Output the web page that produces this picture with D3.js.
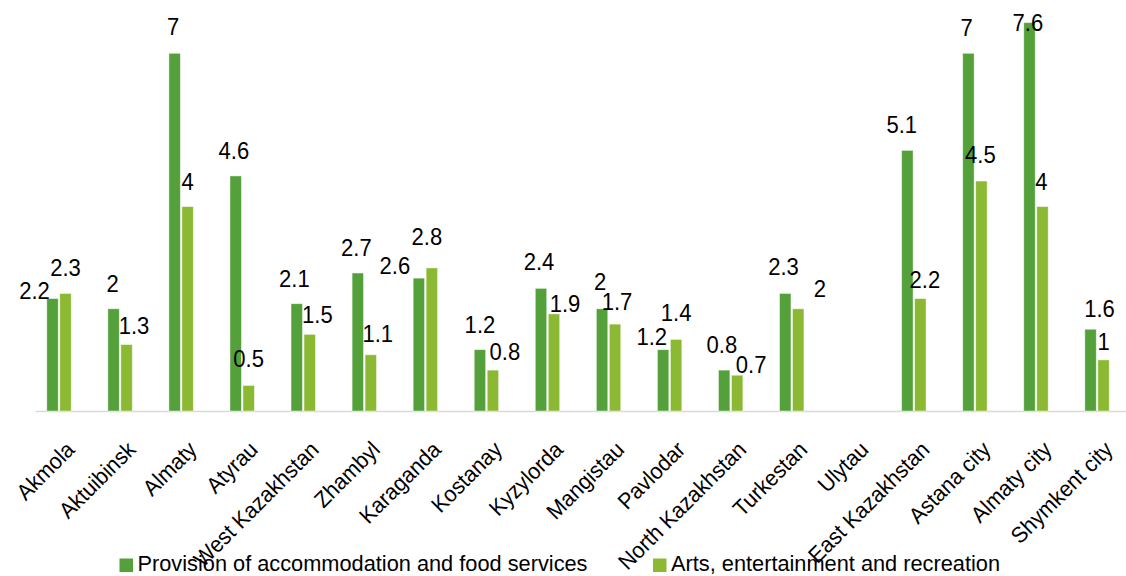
<!DOCTYPE html>
<html>
<head>
<meta charset="utf-8">
<script src="https://cdn.jsdelivr.net/npm/d3@7"></script>
<style>
  html, body { margin: 0; padding: 0; background: #ffffff; }
  svg { display: block; font-family: "Liberation Sans", Arial, sans-serif; }
</style>
</head>
<body>
<svg id="chart" width="1126" height="576"></svg>
<script>
// Regions of Kazakhstan
const regions = [
  "Akmola", "Aktuibinsk", "Almaty", "Atyrau", "West Kazakhstan", "Zhambyl",
  "Karaganda", "Kostanay", "Kyzylorda", "Mangistau", "Pavlodar",
  "North Kazakhstan", "Turkestan", "Ulytau", "East Kazakhstan",
  "Astana city", "Almaty city", "Shymkent city"
];

const seriesNames = [
  "Provision of accommodation and food services",
  "Arts, entertainment and recreation"
];

// Values per region (null = no data)
const accommodationFood = [2.2, 2, 7, 4.6, 2.1, 2.7, 2.6, 1.2, 2.4, 2, 1.2, 0.8, 2.3, null, 5.1, 7, 7.6, 1.6];
const artsRecreation   = [2.3, 1.3, 4, 0.5, 1.5, 1.1, 2.8, 0.8, 1.9, 1.7, 1.4, 0.7, 2, null, 2.2, 4.5, 4, 1];

// Label placement nudges: [horizontal shift, lift above bar top]
const nudgeFood = [[-18,0],[-1,17],[-1.5,18],[-1.8,17],[-2.4,17],[-1.5,17],[-24,4],[0,17],[-2,18],[-2,19],[-11.4,5],[-2.3,17],[-1.7,18],null,[-5.6,17],[-1.7,17.6],[-1.6,-8],[9,12]];
const nudgeArts = [[0,17.5],[7.5,10.6],[0,17],[0,18],[7.7,11],[7,13],[-5,23],[12,10],[11,2],[2,14],[0,18],[14,2],[21.6,11.5],null,[4.5,11],[-1,17.7],[-1,16.6],[0,10]];

const colors = ["#54a03b", "#8cb934"];

const svg = d3.select("#chart");
const baseY = 411;

const x = d3.scaleBand().domain(regions).range([28.5, 1127.6]).padding(0);
const xs = d3.scaleBand().domain(seriesNames).range([18.3, 42.7]).paddingInner(0.12);
const y = d3.scaleLinear().domain([0, 8]).range([baseY, baseY - 8 * 51.1]);

const series = [
  { name: seriesNames[0], values: accommodationFood, nudge: nudgeFood, color: colors[0] },
  { name: seriesNames[1], values: artsRecreation, nudge: nudgeArts, color: colors[1] }
];

// Baseline
svg.append("line")
  .attr("x1", 35.5).attr("x2", 1126)
  .attr("y1", baseY + 0.5).attr("y2", baseY + 0.5)
  .attr("stroke", "#d9d9d9").attr("stroke-width", 1.5);

// Bars and value labels
series.forEach(s => {
  const pts = regions.map((r, i) => ({ r, v: s.values[i], n: s.nudge[i] })).filter(d => d.v != null);
  svg.append("g").selectAll("rect").data(pts).join("rect")
    .attr("x", d => x(d.r) + xs(s.name))
    .attr("width", xs.bandwidth())
    .attr("y", d => y(d.v))
    .attr("height", d => y(0) - y(d.v))
    .attr("fill", s.color)
    .attr("stroke", "rgba(255,255,255,0.55)")
    .attr("stroke-width", 0.8);

  svg.append("g").selectAll("text").data(pts).join("text")
    .attr("transform", d => `translate(${x(d.r) + xs(s.name) + xs.bandwidth() / 2 + d.n[0]},${y(d.v) - d.n[1]}) scale(0.92,1)`)
    .attr("text-anchor", "middle")
    .attr("font-size", 24)
    .attr("fill", "#000")
    .text(d => d.v);
});

// Category labels
svg.append("g").selectAll("text").data(regions).join("text")
  .attr("transform", d => `translate(${x(d) + x.bandwidth() / 2 + 17},451) rotate(-45) scale(0.95,1)`)
  .attr("text-anchor", "end")
  .attr("font-size", 22.5)
  .attr("fill", "#000")
  .text(d => d);

// Legend
const legendX = [119.5, 653];
const legend = svg.append("g");
seriesNames.forEach((name, i) => {
  legend.append("rect")
    .attr("x", legendX[i]).attr("y", 558.5)
    .attr("width", 13.5).attr("height", 13.5)
    .attr("fill", colors[i]);
  legend.append("text")
    .attr("transform", `translate(${legendX[i] + 18},571) scale(0.955,1)`)
    .attr("font-size", 22.8)
    .attr("fill", "#000")
    .text(name);
});
</script>
</body>
</html>
